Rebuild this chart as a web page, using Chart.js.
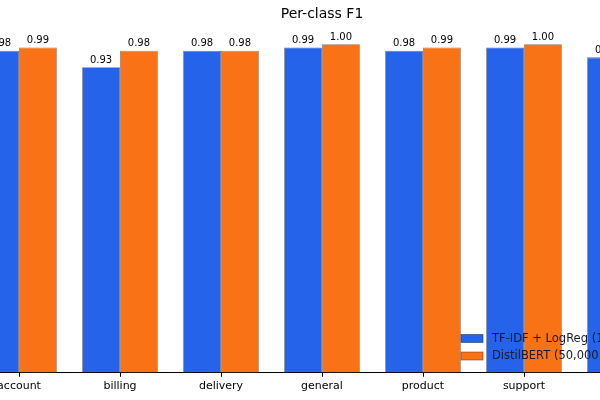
<!DOCTYPE html>
<html>
<head>
<meta charset="utf-8">
<script src="https://cdn.jsdelivr.net/npm/chart.js@4.4.1/dist/chart.umd.min.js"></script>
<style>
  html, body { margin: 0; padding: 0; background: #fff; overflow: hidden; width: 600px; height: 400px; }
  #wrap { position: absolute; left: -100px; top: 0; width: 872px; height: 400px; }
</style>
</head>
<body>
<div id="wrap"><canvas id="chart" width="872" height="400"></canvas></div>
<script>
const categories = ['account', 'billing', 'delivery', 'general', 'product', 'support', 'technical'];
const tfidfF1 = [0.98, 0.93, 0.98, 0.99, 0.98, 0.99, 0.96];
const bertF1 = [0.99, 0.98, 0.98, 1.00, 0.99, 1.00, 0.99];
const seriesNames = ['TF-IDF + LogReg (10,000 samples)', 'DistilBERT (50,000 samples)'];

const FONT = "'DejaVu Sans', sans-serif";

// value labels above each bar
const barLabels = {
  id: 'barLabels',
  afterDatasetsDraw(chart) {
    const ctx = chart.ctx;
    ctx.save();
    ctx.font = '10px ' + FONT;
    ctx.fillStyle = '#000';
    ctx.textAlign = 'center';
    ctx.textBaseline = 'bottom';
    chart.data.datasets.forEach((ds, i) => {
      chart.getDatasetMeta(i).data.forEach((bar, j) => {
        ctx.fillText(ds.data[j].toFixed(2), bar.x, bar.y - 2);
      });
    });
    ctx.restore();
  }
};

// matplotlib-like legend inside the lower right of the axes
const innerLegend = {
  id: 'innerLegend',
  afterDraw(chart) {
    const ctx = chart.ctx;
    const x0 = 561;
    const rows = [338.5, 356];
    ctx.save();
    ctx.font = '11.5px ' + FONT;
    ctx.textBaseline = 'middle';
    chart.data.datasets.forEach((ds, i) => {
      const y = rows[i];
      ctx.fillStyle = ds.backgroundColor;
      ctx.fillRect(x0, y - 4, 22, 8);
      ctx.strokeStyle = ds.borderColor;
      ctx.lineWidth = 0.8;
      ctx.strokeRect(x0, y - 4, 22, 8);
      ctx.fillStyle = '#1a1a2a';
      ctx.fillText(ds.label, x0 + 31, y + 0.5);
    });
    ctx.restore();
  }
};

new Chart(document.getElementById('chart'), {
  type: 'bar',
  data: {
    labels: categories,
    datasets: [
      {
        label: seriesNames[0],
        data: tfidfF1,
        backgroundColor: '#2563eb',
        borderColor: 'rgba(40,50,90,0.7)',
        borderWidth: 0.8,
        borderSkipped: false,
        categoryPercentage: 0.75,
        barPercentage: 1.0
      },
      {
        label: seriesNames[1],
        data: bertF1,
        backgroundColor: '#f97316',
        borderColor: 'rgba(120,60,20,0.7)',
        borderWidth: 0.8,
        borderSkipped: false,
        categoryPercentage: 0.75,
        barPercentage: 1.0
      }
    ]
  },
  options: {
    responsive: false,
    animation: false,
    layout: {
      padding: { left: 68.5, right: 96.5, top: 0, bottom: 4 }
    },
    plugins: {
      legend: { display: false },
      tooltip: { enabled: false },
      title: {
        display: true,
        text: 'Per-class F1',
        color: '#000',
        font: { family: FONT, size: 14, weight: 'normal' },
        padding: { top: 6, bottom: 5 }
      }
    },
    scales: {
      x: {
        grid: {
          offset: false,
          drawOnChartArea: false,
          drawTicks: true,
          tickLength: 4,
          color: '#000'
        },
        border: { display: true, color: '#000', width: 1 },
        ticks: {
          color: '#000',
          font: { family: FONT, size: 11 },
          padding: 3,
          maxRotation: 0,
          autoSkip: false
        }
      },
      y: {
        display: false,
        min: 0,
        max: 1.05
      }
    }
  },
  plugins: [barLabels, innerLegend]
});
</script>
</body>
</html>
